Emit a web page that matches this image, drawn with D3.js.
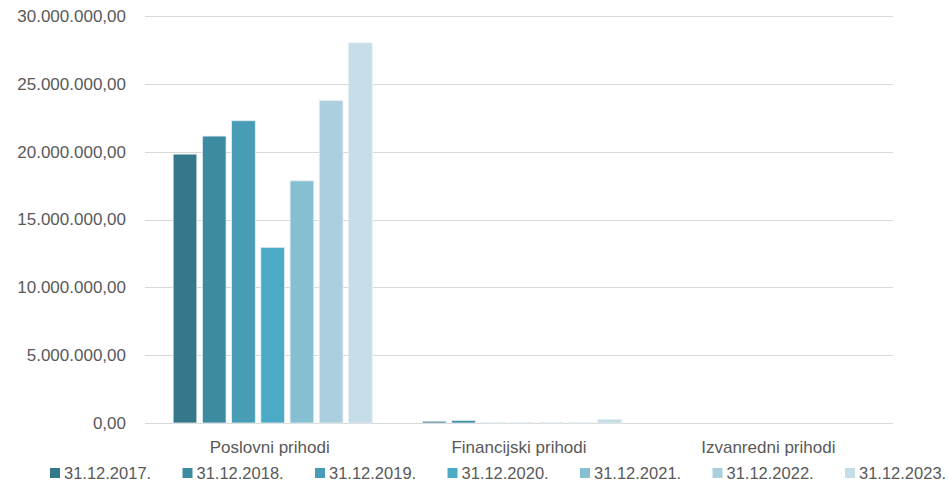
<!DOCTYPE html>
<html>
<head>
<meta charset="utf-8">
<script src="https://cdn.jsdelivr.net/npm/d3@7"></script>
<style>
  html, body { margin: 0; padding: 0; background: #fff; }
  text { font-family: "Liberation Sans", sans-serif; fill: #595959; }
</style>
</head>
<body>
<script>
var w = 948, h = 484;

// categories and series
var categories = ["Poslovni prihodi", "Financijski prihodi", "Izvanredni prihodi"];
var years = ["31.12.2017.", "31.12.2018.", "31.12.2019.", "31.12.2020.", "31.12.2021.", "31.12.2022.", "31.12.2023."];
var colors = ["#34788a", "#3c8ba1", "#469db5", "#4babc6", "#86bfd2", "#abcfdf", "#c4dde7"];

// values per year, in category order
var v2017 = [19820000, 130000, 0];
var v2018 = [21150000, 190000, 0];
var v2019 = [22280000, 40000, 0];
var v2020 = [12950000, 35000, 0];
var v2021 = [17850000, 30000, 0];
var v2022 = [23760000, 25000, 0];
var v2023 = [28020000, 260000, 0];
var series = [v2017, v2018, v2019, v2020, v2021, v2022, v2023];

var yTicks = [0, 5000000, 10000000, 15000000, 20000000, 25000000, 30000000];

var margin = { left: 145, right: 55, top: 16, bottom: 61 };

var svg = d3.select("body").append("svg").attr("width", w).attr("height", h);

// bar groups sit a few px right of the band centre, like the original
var x0 = d3.scaleBand().domain(categories)
  .range([margin.left + 3, w - margin.right + 3]).paddingInner(0.19).paddingOuter(0.095);
var x1 = d3.scaleBand().domain(d3.range(years.length))
  .range([0, x0.bandwidth()]).paddingInner(0.19).paddingOuter(0.05);
var y = d3.scaleLinear().domain([0, 30000000]).range([h - margin.bottom, margin.top]);

// number format like 25.000.000,00
var loc = d3.formatLocale({ decimal: ",", thousands: ".", grouping: [3], currency: ["", ""] });
var fmt = loc.format(",.2f");

// gridlines
svg.append("g").selectAll("line").data(yTicks).enter().append("line")
  .attr("x1", margin.left).attr("x2", w - margin.right)
  .attr("y1", function(d){ return Math.round(y(d)) + 0.5; })
  .attr("y2", function(d){ return Math.round(y(d)) + 0.5; })
  .attr("stroke", "#d9d9d9").attr("stroke-width", 1);

// y labels
svg.append("g").selectAll("text").data(yTicks).enter().append("text")
  .attr("x", 126).attr("y", function(d){ return y(d); })
  .attr("dy", "0.35em").attr("text-anchor", "end")
  .style("font-size", "17px")
  .text(function(d){ return fmt(d); });

// bars
var groups = svg.append("g").selectAll("g").data(categories).enter().append("g")
  .attr("transform", function(d){ return "translate(" + x0(d) + ",0)"; });

groups.selectAll("rect")
  .data(function(c, ci){ return series.map(function(s, si){ return { i: si, v: s[ci] }; }); })
  .enter().append("rect")
  .attr("x", function(d){ return x1(d.i); })
  .attr("width", x1.bandwidth())
  .attr("y", function(d){ return y(d.v); })
  .attr("height", function(d){ return y(0) - y(d.v); })
  .attr("fill", function(d){ return colors[d.i]; })
  .attr("stroke", "#e4eef2").attr("stroke-width", 0.8);

// category labels
svg.append("g").selectAll("text").data(categories).enter().append("text")
  .attr("x", function(d){ return x0(d) - 3 + x0.bandwidth() / 2; })
  .attr("y", 453).attr("text-anchor", "middle")
  .style("font-size", "17px")
  .text(function(d){ return d; });

// legend
var legend = svg.append("g").selectAll("g").data(years).enter().append("g")
  .attr("transform", function(d, i){ return "translate(" + (50 + i * 132.5) + ",468)"; });
legend.append("rect").attr("width", 10).attr("height", 10)
  .attr("fill", function(d, i){ return colors[i]; });
legend.append("text").attr("x", 14).attr("y", 5).attr("dy", "0.35em")
  .style("font-size", "16.5px")
  .text(function(d){ return d; });
</script>
</body>
</html>
